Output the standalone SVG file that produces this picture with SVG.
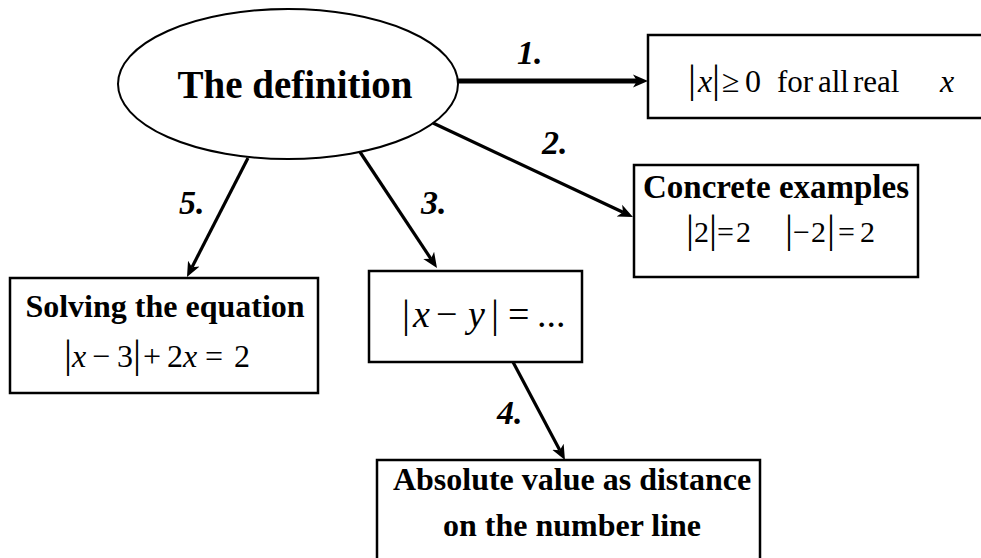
<svg xmlns="http://www.w3.org/2000/svg" width="981" height="558" viewBox="0 0 981 558">
<style>
.box{fill:#fff;stroke:#000;stroke-width:2.5}
.t{font-family:"Liberation Serif","Times New Roman",serif;fill:#000}
.b{font-weight:bold}
.i{font-style:italic}
.bar{font-size:40px}
.lbl{font-family:"Liberation Serif","Times New Roman",serif;font-weight:bold;font-style:italic;font-size:34px}
.con{stroke:#000;fill:none;marker-end:url(#ah)}
</style>
<defs>
<marker id="ah" markerUnits="userSpaceOnUse" markerWidth="20" markerHeight="16" viewBox="0 -8 20 16" refX="4" refY="0" orient="auto">
<path d="M0,-6.5 L15,0 L0,6.5 L4,0 Z" fill="#000"/>
</marker>
</defs>
<rect width="981" height="558" fill="#fff"/>
<g id="connectors">
<line class="con" x1="458" y1="81" x2="637" y2="81" stroke-width="5"/>
<line class="con" x1="433" y1="123" x2="623" y2="212.3" stroke-width="3.2"/>
<line class="con" x1="360" y1="152" x2="430.9" y2="258.8" stroke-width="3.2"/>
<line class="con" x1="248" y1="158" x2="192" y2="267.2" stroke-width="3.2"/>
<line class="con" x1="513" y1="362" x2="559.8" y2="450.3" stroke-width="3.2"/>
<text class="lbl" x="517" y="64">1.</text>
<text class="lbl" x="542" y="154">2.</text>
<text class="lbl" x="421" y="214">3.</text>
<text class="lbl" x="497" y="424">4.</text>
<text class="lbl" x="179" y="214">5.</text>
</g>
<g id="definition">
<ellipse cx="288" cy="84" rx="170" ry="75" fill="#fff" stroke="#000" stroke-width="2"/>
<text class="t b" x="295" y="98" font-size="39" text-anchor="middle">The definition</text>
</g>
<g id="nonneg">
<rect class="box" x="648" y="35" width="345" height="83"/>
<text class="t" y="92" font-size="32"><tspan class="bar" x="688">|</tspan><tspan class="i" x="698">x</tspan><tspan class="bar" x="712">|</tspan><tspan x="722">≥</tspan><tspan x="745">0</tspan><tspan x="777" font-size="31">for</tspan><tspan x="818" font-size="31">all</tspan><tspan x="853" font-size="31">real</tspan><tspan class="i" x="940">x</tspan></text>
</g>
<g id="examples">
<rect class="box" x="634" y="165" width="284" height="112"/>
<text class="t b" x="776" y="198" font-size="33" text-anchor="middle">Concrete examples</text>
<text class="t" y="242" font-size="30"><tspan class="bar" x="686">|</tspan><tspan x="694">2</tspan><tspan class="bar" x="709">|</tspan><tspan x="717">=</tspan><tspan x="736">2</tspan><tspan class="bar" x="785">|</tspan><tspan x="793">−</tspan><tspan x="811">2</tspan><tspan class="bar" x="827">|</tspan><tspan x="838">=</tspan><tspan x="860">2</tspan></text>
</g>
<g id="equation">
<rect class="box" x="10" y="278" width="308" height="115"/>
<text class="t b" x="165" y="317" font-size="32" text-anchor="middle">Solving the equation</text>
<text class="t" y="367" font-size="32"><tspan class="bar" x="64" font-size="42">|</tspan><tspan class="i" x="72">x</tspan><tspan x="92">−</tspan><tspan x="117">3</tspan><tspan class="bar" x="133" font-size="42">|</tspan><tspan x="143">+</tspan><tspan x="167">2</tspan><tspan class="i" x="183">x</tspan><tspan x="205">=</tspan><tspan x="234">2</tspan></text>
</g>
<g id="difference">
<rect class="box" x="369" y="271" width="213" height="91"/>
<text class="t" y="327" font-size="38"><tspan class="bar" x="402" font-size="42">|</tspan><tspan class="i" x="413">x</tspan><tspan x="436">−</tspan><tspan class="i" x="468">y</tspan><tspan class="bar" x="491" font-size="42">|</tspan><tspan x="508">=</tspan><tspan x="537">...</tspan></text>
</g>
<g id="distance">
<rect class="box" x="377" y="460" width="383" height="110"/>
<text class="t b" x="572" y="490" font-size="32" text-anchor="middle">Absolute value as distance</text>
<text class="t b" x="572" y="536" font-size="32" text-anchor="middle">on the number line</text>
</g>
</svg>
